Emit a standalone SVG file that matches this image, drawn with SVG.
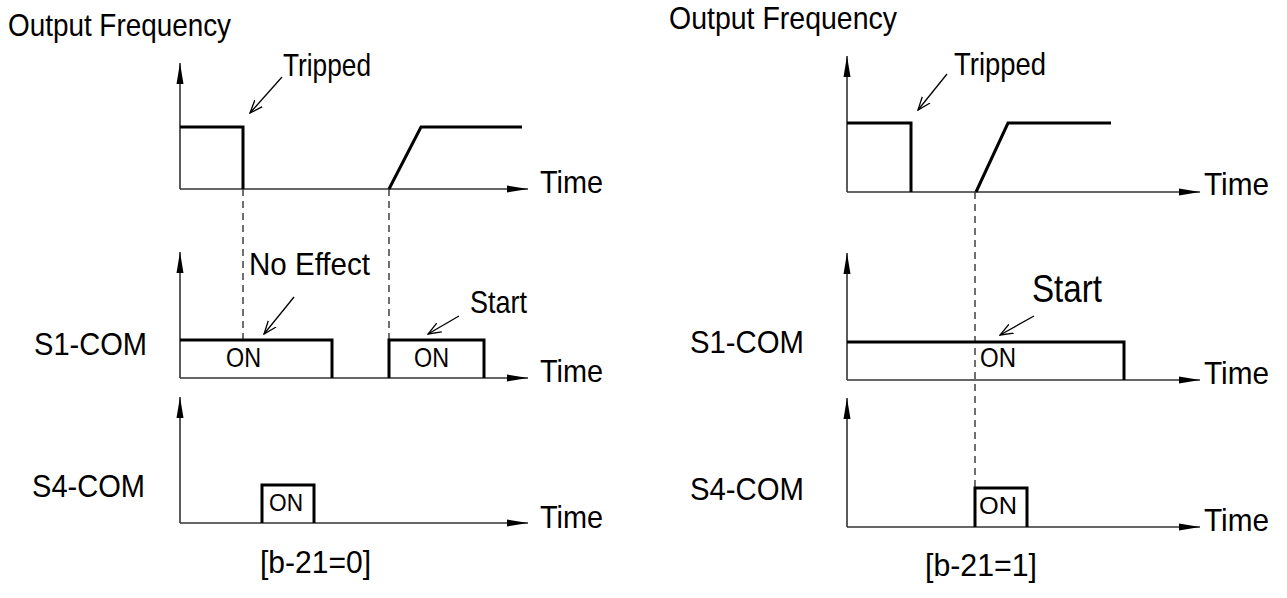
<svg xmlns="http://www.w3.org/2000/svg" width="1287" height="598" viewBox="0 0 1287 598">
<style>
text{font-family:"Liberation Sans",Arial,sans-serif;fill:#000}
.t{font-size:32px}
.on{font-size:27px}
.ons{font-size:24px}
.ax{stroke:#333;stroke-width:1.6;fill:none}
.sig{stroke:#000;stroke-width:3;fill:none;stroke-linejoin:miter}
.dash{stroke:#333;stroke-width:1.4;stroke-dasharray:7 5;fill:none}
.ptr{stroke:#000;stroke-width:1.3;fill:none}
</style>
<defs>
<marker id="ah" markerWidth="22" markerHeight="10" refX="21" refY="5" orient="auto" markerUnits="userSpaceOnUse">
<path d="M0,1.5 L21,5 L0,8.5 Z" fill="#000"/>
</marker>
<marker id="op" markerWidth="14" markerHeight="12" refX="13" refY="6" orient="auto" markerUnits="userSpaceOnUse">
<path d="M0,1 L13,6 L0,11" fill="none" stroke="#000" stroke-width="1.3"/>
</marker>
</defs>
<rect width="1287" height="598" fill="#fff"/>

<g id="connectors">
<line class="dash" x1="243" y1="189" x2="243" y2="340"/>
<line class="dash" x1="389" y1="189" x2="389" y2="340"/>
<line class="dash" x1="975" y1="192" x2="975" y2="488"/>
<line class="ptr" x1="282" y1="77" x2="250" y2="113" marker-end="url(#op)"/>
<line class="ptr" x1="294" y1="297" x2="264" y2="334" marker-end="url(#op)"/>
<line class="ptr" x1="459" y1="316" x2="428" y2="334" marker-end="url(#op)"/>
<line class="ptr" x1="947" y1="74" x2="918" y2="110" marker-end="url(#op)"/>
<line class="ptr" x1="1034" y1="316" x2="1000" y2="335" marker-end="url(#op)"/>
</g>

<g id="left-freq">
<text class="t" x="8" y="36" textLength="223" lengthAdjust="spacingAndGlyphs">Output Frequency</text>
<line class="ax" x1="180" y1="189" x2="180" y2="63" marker-end="url(#ah)"/>
<line class="ax" x1="180" y1="189" x2="528" y2="189" marker-end="url(#ah)"/>
<polyline class="sig" points="180,127 243,127 243,189"/>
<polyline class="sig" points="389,189 421,127 522,127"/>
<text class="t" x="283" y="76" textLength="88" lengthAdjust="spacingAndGlyphs">Tripped</text>
<text class="t" x="540" y="193" textLength="63" lengthAdjust="spacingAndGlyphs">Time</text>
</g>

<g id="left-s1">
<text class="t" x="34" y="355" textLength="113" lengthAdjust="spacingAndGlyphs">S1-COM</text>
<line class="ax" x1="180" y1="378" x2="180" y2="252" marker-end="url(#ah)"/>
<line class="ax" x1="180" y1="378" x2="528" y2="378" marker-end="url(#ah)"/>
<polyline class="sig" points="180,340 332,340 332,378"/>
<polyline class="sig" points="389,378 389,340 484,340 484,378"/>
<text class="on" x="226" y="367" textLength="35" lengthAdjust="spacingAndGlyphs">ON</text>
<text class="on" x="414" y="367" textLength="35" lengthAdjust="spacingAndGlyphs">ON</text>
<text class="t" x="249" y="275" textLength="121" lengthAdjust="spacingAndGlyphs">No Effect</text>
<text class="t" x="470" y="313" textLength="57" lengthAdjust="spacingAndGlyphs">Start</text>
<text class="t" x="540" y="382" textLength="63" lengthAdjust="spacingAndGlyphs">Time</text>
</g>

<g id="left-s4">
<text class="t" x="32" y="497" textLength="113" lengthAdjust="spacingAndGlyphs">S4-COM</text>
<line class="ax" x1="180" y1="523" x2="180" y2="397" marker-end="url(#ah)"/>
<line class="ax" x1="180" y1="523" x2="528" y2="523" marker-end="url(#ah)"/>
<polyline class="sig" points="262,523 262,485 314,485 314,523"/>
<text class="ons" x="269" y="511" textLength="34" lengthAdjust="spacingAndGlyphs">ON</text>
<text class="t" x="540" y="528" textLength="63" lengthAdjust="spacingAndGlyphs">Time</text>
<text class="t" x="260" y="573" textLength="111" lengthAdjust="spacingAndGlyphs">[b-21=0]</text>
</g>

<g id="right-freq">
<text class="t" x="669" y="29" textLength="228" lengthAdjust="spacingAndGlyphs">Output Frequency</text>
<line class="ax" x1="847" y1="192" x2="847" y2="56" marker-end="url(#ah)"/>
<line class="ax" x1="847" y1="192" x2="1200" y2="192" marker-end="url(#ah)"/>
<polyline class="sig" points="847,123 911,123 911,192"/>
<polyline class="sig" points="976,192 1008,123 1111,123"/>
<text class="t" x="954" y="75" textLength="92" lengthAdjust="spacingAndGlyphs">Tripped</text>
<text class="t" x="1204" y="195" textLength="65" lengthAdjust="spacingAndGlyphs">Time</text>
</g>

<g id="right-s1">
<text class="t" x="690" y="353" textLength="114" lengthAdjust="spacingAndGlyphs">S1-COM</text>
<line class="ax" x1="847" y1="380" x2="847" y2="253" marker-end="url(#ah)"/>
<line class="ax" x1="847" y1="380" x2="1200" y2="380" marker-end="url(#ah)"/>
<polyline class="sig" points="847,342 1124,342 1124,380"/>
<text class="on" x="980" y="367" textLength="36" lengthAdjust="spacingAndGlyphs">ON</text>
<text x="1032" y="302" style="font-size:38px" textLength="70" lengthAdjust="spacingAndGlyphs">Start</text>
<text class="t" x="1204" y="384" textLength="65" lengthAdjust="spacingAndGlyphs">Time</text>
</g>

<g id="right-s4">
<text class="t" x="690" y="500" textLength="114" lengthAdjust="spacingAndGlyphs">S4-COM</text>
<line class="ax" x1="847" y1="527" x2="847" y2="398" marker-end="url(#ah)"/>
<line class="ax" x1="847" y1="527" x2="1200" y2="527" marker-end="url(#ah)"/>
<polyline class="sig" points="975,527 975,488 1027,488 1027,527"/>
<text class="ons" x="979" y="514" textLength="38" lengthAdjust="spacingAndGlyphs">ON</text>
<text class="t" x="1204" y="531" textLength="65" lengthAdjust="spacingAndGlyphs">Time</text>
<text class="t" x="925" y="576" textLength="112" lengthAdjust="spacingAndGlyphs">[b-21=1]</text>
</g>
</svg>
